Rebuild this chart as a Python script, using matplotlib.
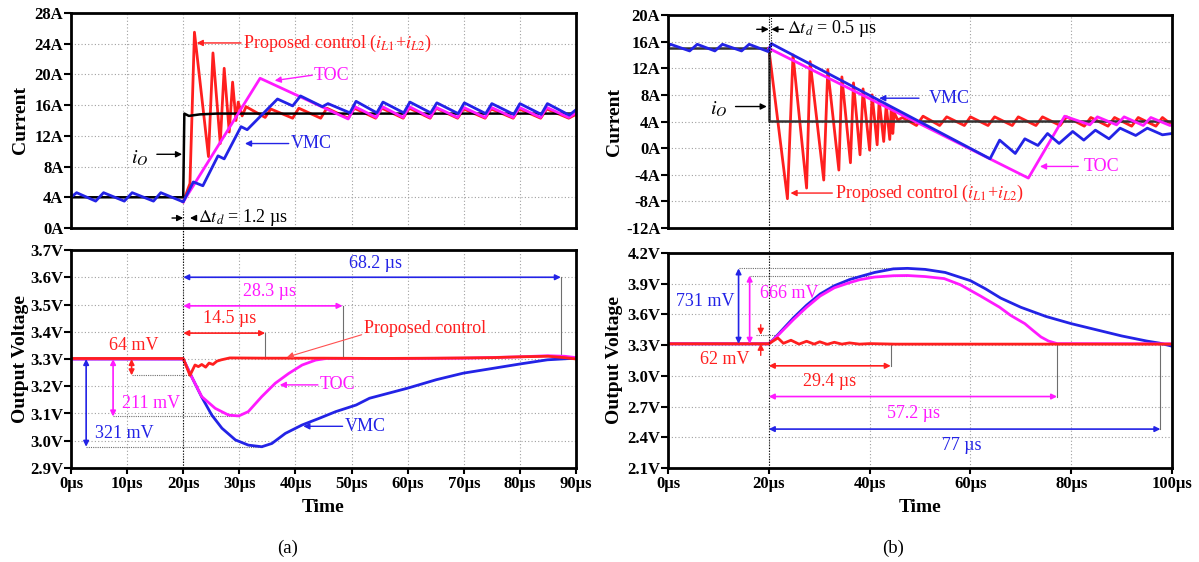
import matplotlib
matplotlib.use('Agg')
import matplotlib.pyplot as plt

plt.rcParams['font.family'] = ['Liberation Serif', 'DejaVu Serif']
plt.rcParams['mathtext.fontset'] = 'stix'

# ---------------- data : panel (a) ----------------
io_a_t = [0, 20, 20.2, 21, 23, 26, 90]
io_a = [4.0, 4.0, 14.9, 14.6, 14.8, 14.9, 14.9]

vmc_a_t = [0, 1.0, 4.4, 5.8, 9.5, 10.9, 14.7, 16.0, 20.0,
           21.8, 23.5, 26.2, 27.3, 30.3, 31.4, 36.8, 39.5, 40.9,
           44.8, 45.8, 49.7, 50.8, 54.5, 55.6, 59.3, 60.4, 64.1, 65.2, 69.0, 70.1,
           73.9, 75.0, 78.9, 80.0, 83.8, 84.9, 88.8, 90.0]
vmc_a = [4.0, 4.6, 3.5, 4.6, 3.5, 4.6, 3.5, 4.6, 3.4,
         6.0, 5.5, 9.4, 9.0, 13.2, 12.8, 16.8, 15.9, 17.2,
         15.8, 16.2, 15.0, 16.5, 15.0, 16.4, 15.0, 16.4, 15.0, 16.3, 14.9, 16.3,
         14.9, 16.2, 14.8, 16.2, 14.8, 16.2, 14.7, 15.4]

toc_a_t = [20.0, 33.7, 49.4, 50.6, 54.4, 55.5, 59.2, 60.3, 64.0, 65.1, 68.9, 70.0,
           73.8, 74.9, 78.8, 79.9, 83.7, 84.8, 88.7, 90.0]
toc_a = [3.4, 19.5, 14.2, 15.8, 14.4, 15.8, 14.4, 15.8, 14.4, 15.7, 14.4, 15.7,
         14.4, 15.7, 14.4, 15.7, 14.4, 15.7, 14.4, 15.0]

prop_a_t = [20.0, 21.2, 22.0, 24.5, 25.3, 26.6, 27.3, 28.2, 28.8, 29.4, 29.8, 30.5, 31.2,
            34.6, 35.6, 39.5, 40.6, 44.5, 45.6, 49.4, 50.5, 54.3, 55.4, 59.2, 60.3,
            64.0, 65.1, 68.9, 70.0, 73.8, 74.9, 78.8, 79.9, 83.7, 84.8, 88.7, 90.0]
prop_a = [3.4, 5.8, 25.5, 9.3, 22.8, 11.0, 20.8, 12.5, 19.0, 14.0, 16.4, 14.6, 15.8,
          14.4, 15.5, 14.3, 15.6, 14.3, 15.6, 14.3, 15.6, 14.3, 15.6, 14.3, 15.6,
          14.3, 15.6, 14.3, 15.5, 14.3, 15.5, 14.3, 15.5, 14.3, 15.5, 14.3, 14.8]

vprop_a_t = [0, 20, 21.2, 22.1, 22.7, 23.3, 24.0, 24.6, 25.3, 26.0, 26.8, 28.3, 35,
             45, 55, 65, 75, 80, 85, 88, 90]
vprop_a = [3.302, 3.302, 3.240, 3.278, 3.272, 3.280, 3.270, 3.285, 3.280, 3.292, 3.297,
           3.304, 3.303, 3.303, 3.302, 3.303, 3.305, 3.308, 3.310, 3.305, 3.300]

vtoc_a_t = [0, 20, 21.5, 23.3, 25.7, 28.1, 29.9, 31.6, 34.0, 36.4, 38.8, 41.2,
            43.6, 45.5, 50, 60, 70, 80, 85, 88, 90]
vtoc_a = [3.30, 3.30, 3.235, 3.162, 3.119, 3.094, 3.091, 3.107, 3.162, 3.211, 3.247,
          3.278, 3.296, 3.302, 3.302, 3.302, 3.303, 3.308, 3.312, 3.310, 3.305]

vvmc_a_t = [0, 20, 21.5, 23.3, 25.1, 26.9, 29.3, 31.6, 34.0, 35.8, 38.2, 41.2, 44.2,
            47.2, 50.8, 53.2, 60.0, 65.1, 69.9, 75.3, 80.1, 84.9, 90.0]
vvmc_a = [3.30, 3.30, 3.235, 3.16, 3.094, 3.046, 3.003, 2.984, 2.978, 2.99, 3.027,
          3.058, 3.082, 3.107, 3.131, 3.156, 3.193, 3.224, 3.248, 3.266, 3.282,
          3.297, 3.303]

# ---------------- data : panel (b) ----------------
io_b_t = [0, 20, 20, 100]
io_b = [15.0, 15.0, 4.1, 4.1]

vmc_b_t = [0, 0.5, 4.3, 5.8, 9.3, 10.8, 14.6, 16.1, 19.9, 20.5,
           63.9, 65.8, 68.9, 70.8, 73.4, 75.3, 77.6, 80.3, 82.5, 84.8, 87.5,
           89.7, 92.8, 95.1, 98.1, 100]
vmc_b = [15.2, 15.6, 14.6, 15.6, 14.6, 15.6, 14.6, 15.6, 14.5, 15.7,
         -1.6, 1.2, -0.8, 1.4, 0.4, 2.2, 0.7, 2.5, 1.2, 2.7, 1.4,
         3.0, 1.9, 3.0, 2.0, 2.2]

toc_b_t = [20.0, 71.5, 78.7, 83.7, 85.2, 89.0, 90.5, 94.3, 95.8, 99.6, 100]
toc_b = [15.0, -4.5, 4.8, 3.5, 4.7, 3.5, 4.7, 3.4, 4.6, 3.4, 3.5]

prop_b_t = [20.0, 23.7, 24.8, 27.5, 28.2, 30.9, 31.7, 33.9, 34.5, 36.2, 36.8, 38.1,
            38.7, 40.0, 40.5, 41.5, 41.9, 42.8, 43.3, 44.0, 44.3, 44.6, 44.9, 45.6,
            46.5, 49.3, 50.6, 53.9, 55.3, 58.8, 60.0, 63.5, 64.8, 68.3, 69.5, 73.0,
            74.3, 77.8, 79.1, 82.6, 83.9, 87.3, 88.6, 92.0, 93.3, 96.8, 98.1, 100.0]
prop_b = [15.0, -7.6, 14.0, -6.0, 13.0, -4.8, 11.8, -3.3, 10.7, -2.2, 9.8, -1.0,
          8.9, -0.3, 8.0, 0.5, 7.2, 1.0, 6.5, 1.3, 6.0, 2.2, 5.3, 4.2,
          4.6, 3.4, 4.8, 3.4, 4.7, 3.4, 4.7, 3.4, 4.7, 3.4, 4.7, 3.4,
          4.7, 3.4, 4.7, 3.3, 4.6, 3.3, 4.6, 3.3, 4.6, 3.3, 4.6, 3.5]

vprop_b_t = [0, 20, 21.0, 21.8, 22.9, 24.4, 26.0, 27.5, 29.0, 30.1, 31.6, 33.0, 34.5,
             36.0, 38.0, 40, 45, 60, 80, 100]
vprop_b = [3.313, 3.313, 3.345, 3.37, 3.318, 3.348, 3.31, 3.338, 3.31, 3.333, 3.308,
           3.328, 3.31, 3.322, 3.31, 3.315, 3.31, 3.31, 3.31, 3.31]

vtoc_b_t = [0, 20, 21, 22.5, 24.9, 27.5, 30.2, 33, 36, 38.1, 41, 44.7, 47.5, 51,
            54.8, 58, 62, 65.8, 68, 70.8, 72.5, 74, 75.5, 77.2, 100]
vtoc_b = [3.313, 3.313, 3.355, 3.43, 3.55, 3.67, 3.78, 3.86, 3.91, 3.94, 3.965,
          3.978, 3.98, 3.97, 3.95, 3.89, 3.78, 3.67, 3.59, 3.51, 3.44, 3.38, 3.34,
          3.315, 3.313]

vvmc_b_t = [0, 20, 21, 22.5, 24.9, 27.5, 30.2, 33, 36, 38.1, 41, 44.7, 47.5, 51,
            55, 60, 63, 66, 70, 75, 80, 85, 90, 95, 97.5, 100]
vvmc_b = [3.313, 3.313, 3.36, 3.44, 3.567, 3.69, 3.80, 3.88, 3.94, 3.97, 4.01,
          4.045, 4.05, 4.04, 4.01, 3.93, 3.85, 3.76, 3.67, 3.58, 3.51, 3.45, 3.39,
          3.34, 3.32, 3.29]

# tick labels
ia_ticks = [0, 4, 8, 12, 16, 20, 24, 28]
va_ticks = [2.9, 3.0, 3.1, 3.2, 3.3, 3.4, 3.5, 3.6, 3.7]
ta_ticks = [0, 10, 20, 30, 40, 50, 60, 70, 80, 90]
ib_ticks = [-12, -8, -4, 0, 4, 8, 12, 16, 20]
vb_ticks = [2.1, 2.4, 2.7, 3.0, 3.3, 3.6, 3.9, 4.2]
tb_ticks = [0, 20, 40, 60, 80, 100]

RED = '#ff1f1f'
BLUE = '#2323e6'
MAG = '#ff1aff'
GRAY = '#6e6e6e'

W, H = 1199, 562
fig = plt.figure(figsize=(W / 100, H / 100), dpi=100)


def add_ax(l, t, r, b):
    return fig.add_axes([l / W, 1 - b / H, (r - l) / W, (b - t) / H])


axIa = add_ax(71, 13, 576, 228)
axVa = add_ax(71, 250, 576, 468)
axIb = add_ax(668, 15, 1172, 228)
axVb = add_ax(668, 253, 1172, 468)

TFS = 12


def style(ax, xticks, yticks, ylabels, xlabels, ylabel):
    ax.set_xlim(xticks[0], xticks[-1])
    ax.set_ylim(yticks[0], yticks[-1])
    ax.set_xticks(xticks)
    ax.set_yticks(yticks)
    ax.set_yticklabels(ylabels, fontweight='bold', fontsize=TFS)
    ax.grid(True, color='#a0a0a0', lw=0.8, ls=(0, (1, 2)))
    for s in ax.spines.values():
        s.set_linewidth(2)
        s.set_zorder(10)
    ax.tick_params(axis='y', direction='out', length=5, width=1.5, pad=0.5)
    if xlabels is None:
        ax.tick_params(axis='x', length=0, labelbottom=False)
    else:
        ax.set_xticklabels(xlabels, fontweight='bold', fontsize=TFS)
        ax.tick_params(axis='x', direction='out', length=4, width=1.5, pad=2)
        ax.set_xlabel('Time', fontweight='bold', fontsize=14, labelpad=5)
    ax.set_ylabel(ylabel, fontweight='bold', fontsize=14)


style(axIa, ta_ticks, ia_ticks, [f'{v}A' for v in ia_ticks], None, 'Current')
style(axVa, ta_ticks, va_ticks, [f'{v:.1f}V' for v in va_ticks],
      [f'{v}µs' for v in ta_ticks], 'Output Voltage')
style(axIb, tb_ticks, ib_ticks, [f'{v}A' for v in ib_ticks], None, 'Current')
style(axVb, tb_ticks, vb_ticks, [f'{v:.1f}V' for v in vb_ticks],
      [f'{v}µs' for v in tb_ticks], 'Output Voltage')
for ax in (axIa, axVa):
    ax.yaxis.set_label_coords(-0.084, 0.5)
for ax in (axIb, axVb):
    ax.yaxis.set_label_coords(-0.09, 0.5)

LW = 2.0
# ---- current (a)
axIa.plot(prop_a_t, prop_a, color=RED, lw=LW, zorder=3)
axIa.plot(toc_a_t, toc_a, color=MAG, lw=LW, zorder=4)
axIa.plot(io_a_t, io_a, color='black', lw=1.8, zorder=3.5)
axIa.plot(vmc_a_t, vmc_a, color=BLUE, lw=LW, zorder=5)
# ---- voltage (a)
axVa.plot(vvmc_a_t, vvmc_a, color=BLUE, lw=LW, zorder=3)
axVa.plot(vtoc_a_t, vtoc_a, color=MAG, lw=LW, zorder=4)
axVa.plot(vprop_a_t, vprop_a, color=RED, lw=LW, zorder=5)
# ---- current (b)
axIb.plot(prop_b_t, prop_b, color=RED, lw=LW, zorder=3)
axIb.plot(io_b_t, io_b, color='#333333', lw=1.8, zorder=3.5)
axIb.plot(toc_b_t, toc_b, color=MAG, lw=LW, zorder=4)
axIb.plot(vmc_b_t, vmc_b, color=BLUE, lw=LW, zorder=5)
# ---- voltage (b)
axVb.plot(vvmc_b_t, vvmc_b, color=BLUE, lw=LW, zorder=3)
axVb.plot(vtoc_b_t, vtoc_b, color=MAG, lw=LW, zorder=4)
axVb.plot(vprop_b_t, vprop_b, color=RED, lw=LW, zorder=5)

FS = 13


def pointer(ax, start, head, color, lw=1.0):
    ax.annotate('', xy=head, xytext=start,
                arrowprops=dict(arrowstyle='-|>', color=color, lw=lw,
                                mutation_scale=9, shrinkA=0, shrinkB=0), zorder=8)


def dbl(ax, p1, p2, color):
    ax.annotate('', xy=p2, xytext=p1,
                arrowprops=dict(arrowstyle='<|-|>', color=color, lw=1.2,
                                mutation_scale=8, shrinkA=0, shrinkB=0), zorder=8)


def guide(ax, xs, ys, ls='-'):
    ax.plot(xs, ys, color=GRAY, lw=0.8, ls=ls, zorder=2)


# ---- annotations current (a)
pointer(axIa, (30.3, 24.1), (22.4, 24.1), RED)
axIa.text(30.7, 24.1, 'Proposed control ($i_{L1}$+$i_{L2}$)', color=RED, fontsize=FS, va='center')
pointer(axIa, (43.0, 19.9), (36.3, 19.2), MAG)
axIa.text(43.3, 19.9, 'TOC', color=MAG, fontsize=FS, va='center')
pointer(axIa, (38.8, 11.0), (31.0, 11.0), BLUE)
axIa.text(39.2, 11.0, 'VMC', color=BLUE, fontsize=FS, va='center')
pointer(axIa, (15.3, 9.6), (19.8, 9.6), 'black')
axIa.text(12.3, 9.1, '$i_O$', color='black', fontsize=14.5, va='center', ha='center')
pointer(axIa, (18.0, 1.3), (20.0, 1.3), 'black')
pointer(axIa, (22.3, 1.3), (21.2, 1.3), 'black')
axIa.text(22.6, 1.4, r'$\Delta t_d$ = 1.2 µs', color='black', fontsize=FS, va='center')
axIa.plot([20, 20], [-3.0, 2.5], color='black', lw=0.8, ls=(0, (1, 1.5)), clip_on=False, zorder=6)

# ---- annotations voltage (a)
axVa.plot([20, 20], [2.9, 3.785], color='black', lw=0.8, ls=(0, (1, 1.5)), clip_on=False, zorder=6)
dbl(axVa, (20, 3.6), (87.3, 3.6), BLUE)
guide(axVa, [87.3, 87.3], [3.6, 3.305])
axVa.text(54.2, 3.652, '68.2 µs', color=BLUE, fontsize=FS, ha='center', va='center')
dbl(axVa, (20, 3.495), (48.4, 3.495), MAG)
guide(axVa, [48.4, 48.4], [3.495, 3.305])
axVa.text(35.4, 3.547, '28.3 µs', color=MAG, fontsize=FS, ha='center', va='center')
dbl(axVa, (20, 3.395), (34.6, 3.395), RED)
guide(axVa, [34.6, 34.6], [3.395, 3.305])
axVa.text(28.3, 3.448, '14.5 µs', color=RED, fontsize=FS, ha='center', va='center')
pointer(axVa, (51.8, 3.389), (38.5, 3.307), '#ff5050', lw=0.8)
axVa.text(52.3, 3.413, 'Proposed control', color=RED, fontsize=FS, va='center')
dbl(axVa, (10.8, 3.30), (10.8, 3.24), RED)
guide(axVa, [10.8, 21.2], [3.24, 3.24], ls=(0, (1, 1)))
axVa.text(11.2, 3.35, '64 mV', color=RED, fontsize=FS, ha='center', va='center')
dbl(axVa, (7.5, 3.30), (7.5, 3.089), MAG)
guide(axVa, [7.5, 29.5], [3.089, 3.089], ls=(0, (1, 1)))
axVa.text(14.3, 3.138, '211 mV', color=MAG, fontsize=FS, ha='center', va='center')
dbl(axVa, (2.7, 3.30), (2.7, 2.978), BLUE)
guide(axVa, [2.7, 34.0], [2.978, 2.978], ls=(0, (1, 1)))
axVa.text(9.5, 3.027, '321 mV', color=BLUE, fontsize=FS, ha='center', va='center')
pointer(axVa, (44.0, 3.205), (37.2, 3.205), MAG)
axVa.text(44.4, 3.205, 'TOC', color=MAG, fontsize=FS, va='center')
pointer(axVa, (48.4, 3.053), (41.4, 3.053), BLUE)
axVa.text(48.8, 3.053, 'VMC', color=BLUE, fontsize=FS, va='center')

# ---- annotations current (b)
axIb.plot([20, 20], [-12, 20], color='black', lw=0.8, ls=(0, (1, 1.5)), clip_on=False, zorder=6)
axIb.plot([20.5, 20.5], [14.5, 20], color='black', lw=0.8, ls=(0, (1, 1.5)), zorder=6)
pointer(axIb, (17.6, 17.85), (20.0, 17.85), 'black')
pointer(axIb, (22.9, 17.85), (20.5, 17.85), 'black')
axIb.text(23.6, 17.95, r'$\Delta t_d$ = 0.5 µs', color='black', fontsize=FS, va='center')
pointer(axIb, (13.4, 6.25), (19.6, 6.25), 'black')
axIb.text(10.0, 5.8, '$i_O$', color='black', fontsize=14.5, va='center', ha='center')
pointer(axIb, (49.8, 7.5), (41.9, 7.5), BLUE)
axIb.text(51.8, 7.5, 'VMC', color=BLUE, fontsize=FS, va='center')
pointer(axIb, (81.4, -2.75), (73.8, -2.75), MAG)
axIb.text(82.5, -2.75, 'TOC', color=MAG, fontsize=FS, va='center')
pointer(axIb, (32.6, -6.75), (24.3, -6.75), RED)
axIb.text(33.2, -6.75, 'Proposed control ($i_{L1}$+$i_{L2}$)', color=RED, fontsize=FS, va='center')

# ---- annotations voltage (b)
axVb.plot([20, 20], [2.1, 4.45], color='black', lw=0.8, ls=(0, (1, 1.5)), clip_on=False, zorder=6)
dbl(axVb, (14.0, 3.313), (14.0, 4.05), BLUE)
guide(axVb, [14.0, 47.5], [4.05, 4.05], ls=(0, (1, 1)))
axVb.text(7.4, 3.73, '731 mV', color=BLUE, fontsize=FS, ha='center', va='center')
dbl(axVb, (16.2, 3.313), (16.2, 3.98), MAG)
guide(axVb, [16.2, 47.5], [3.98, 3.98], ls=(0, (1, 1)))
axVb.text(24.1, 3.80, '666 mV', color=MAG, fontsize=FS, ha='center', va='center')
pointer(axVb, (18.4, 3.50), (18.4, 3.40), RED)
pointer(axVb, (18.4, 3.20), (18.4, 3.315), RED)
guide(axVb, [17.5, 21.5], [3.40, 3.40], ls=(0, (1, 1)))
axVb.text(11.2, 3.163, '62 mV', color=RED, fontsize=FS, ha='center', va='center')
dbl(axVb, (20, 3.098), (44.2, 3.098), RED)
guide(axVb, [44.2, 44.2], [3.098, 3.31])
axVb.text(32.0, 2.94, '29.4 µs', color=RED, fontsize=FS, ha='center', va='center')
dbl(axVb, (20, 2.798), (77.2, 2.798), MAG)
guide(axVb, [77.2, 77.2], [2.798, 3.31])
axVb.text(48.7, 2.632, '57.2 µs', color=MAG, fontsize=FS, ha='center', va='center')
dbl(axVb, (20, 2.48), (97.7, 2.48), BLUE)
guide(axVb, [97.7, 97.7], [2.48, 3.31])
axVb.text(58.2, 2.32, '77 µs', color=BLUE, fontsize=FS, ha='center', va='center')

fig.text(288 / W, 1 - 548 / H, '(a)', fontsize=13.5, ha='center', va='center')
fig.text(893 / W, 1 - 548 / H, '(b)', fontsize=13.5, ha='center', va='center')

fig.savefig('out.png', dpi=100)
